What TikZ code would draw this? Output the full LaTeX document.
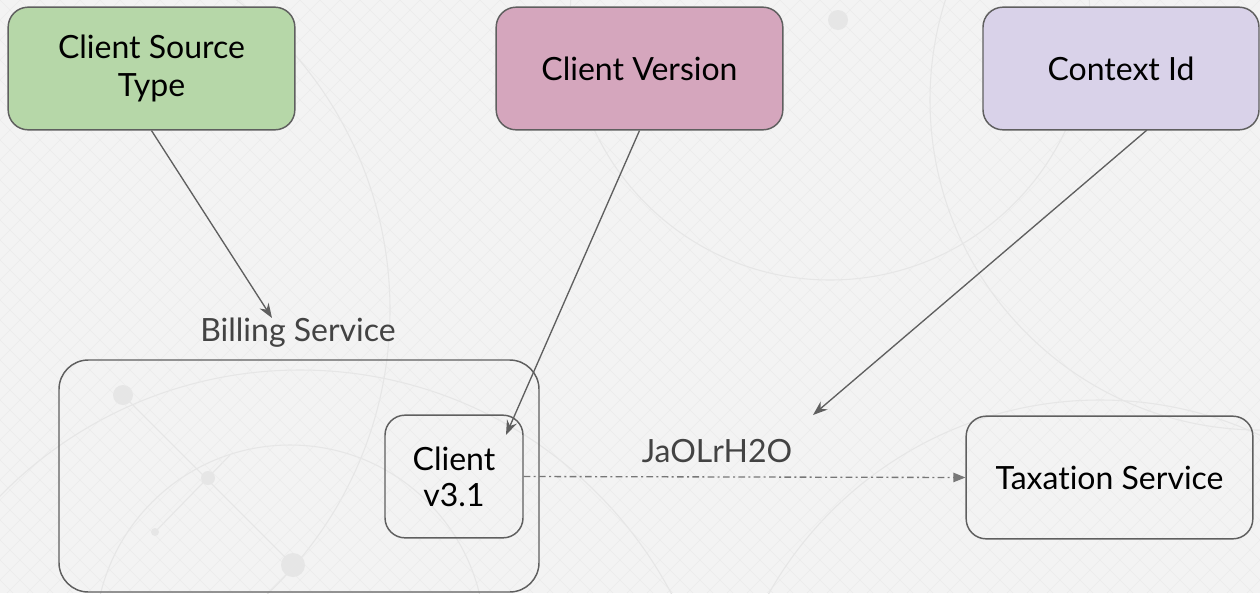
\documentclass[tikz,border=0pt]{standalone}
\usepackage{fontspec}
\setmainfont{Lato}[Ligatures={NoCommon,NoRequired,NoContextual}]
\usetikzlibrary{arrows.meta,calc}
\definecolor{bgc}{HTML}{F3F3F3}
\definecolor{gridc}{HTML}{E6E6E6}
\definecolor{linec}{HTML}{5F5F5F}
\definecolor{labc}{HTML}{434343}
\definecolor{cgreen}{HTML}{B6D7A8}
\definecolor{cpink}{HTML}{D5A6BD}
\definecolor{cpurple}{HTML}{D9D2E9}
\tikzset{
  box/.style={draw=linec, line width=1.1pt, rounded corners=15pt, align=center,
    font=\fontsize{24}{28.5}\selectfont, text=black, inner sep=0pt},
  conn/.style={draw=linec, line width=1.0pt, -{Stealth[length=11pt,width=8pt]}},
  lab/.style={font=\fontsize{24}{28.5}\selectfont, text=labc},
  deco/.style={draw=gridc, line width=0.8pt}
}
\begin{document}
\begin{tikzpicture}[x=0.75pt,y=-0.75pt]
\useasboundingbox (0,0) rectangle (1260,593);
\fill[bgc] (0,0) rectangle (1260,593);
\begin{scope}
\clip (0,0) rectangle (1260,593);
\foreach \i in {-600,-580,...,1900} {
  \draw[gridc!80, line width=0.5pt] (\i,0) -- ++(593,593);
  \draw[gridc!80, line width=0.5pt] (\i,0) -- ++(-593,593);
}
\draw[deco] (290,640) circle (195);
\draw[deco] (300,790) circle (420);
\draw[deco] (0,310) circle (390);
\draw[deco] (830,20) circle (260);
\draw[deco] (1100,780) circle (380);
\draw[deco] (1260,100) circle (330);
\draw[deco] (123,395) -- (293,565);
\draw[deco] (155,532) -- (230,455);
\fill[gridc] (123,395) circle (10);
\fill[gridc] (208,478) circle (7);
\fill[gridc] (155,532) circle (4);
\fill[gridc] (293,565) circle (12);
\fill[gridc] (838,20) circle (10);
\end{scope}

\node[box, fill=cgreen, minimum width=215pt, minimum height=92pt] (cst) at (151.5,68.5) {Client Source\\Type};
\node[box, fill=cpink, minimum width=215pt, minimum height=92pt] (cv) at (639.5,68.5) {Client Version};
\node[box, fill=cpurple, minimum width=207pt, minimum height=92pt] (ctx) at (1121,68.5) {Context Id};

\node[box, minimum width=360pt, minimum height=174pt, rounded corners=22pt] (bill) at (299,476) {};
\node[lab] (billlab) at (298,333) {Billing Service};
\node[box, minimum width=103.5pt, minimum height=92pt, font=\fontsize{24}{27}\selectfont] (client) at (454,476.5) {Client\\v3.1};
\node[box, minimum width=215pt, minimum height=92pt] (tax) at (1109.5,477.5) {Taxation Service};
\node[lab] (jlab) at (717,451) {JaOLrH2O};

\coordinate (e1) at (272,318);
\coordinate (e2) at (506,435);
\coordinate (e3) at (813,415);
\coordinate (s3) at (1147,130);

\draw[conn] (cst.south) -- (e1);
\draw[conn] (cv.south) -- (e2);
\draw[conn] (s3) -- (e3);
\draw[draw=linec!85, line width=1.0pt, dash pattern=on 5pt off 2.5pt on 1.5pt off 2.5pt, -{Triangle[length=9pt,width=7pt]}] (client.east) -- (tax.west);
\end{tikzpicture}
\end{document}
